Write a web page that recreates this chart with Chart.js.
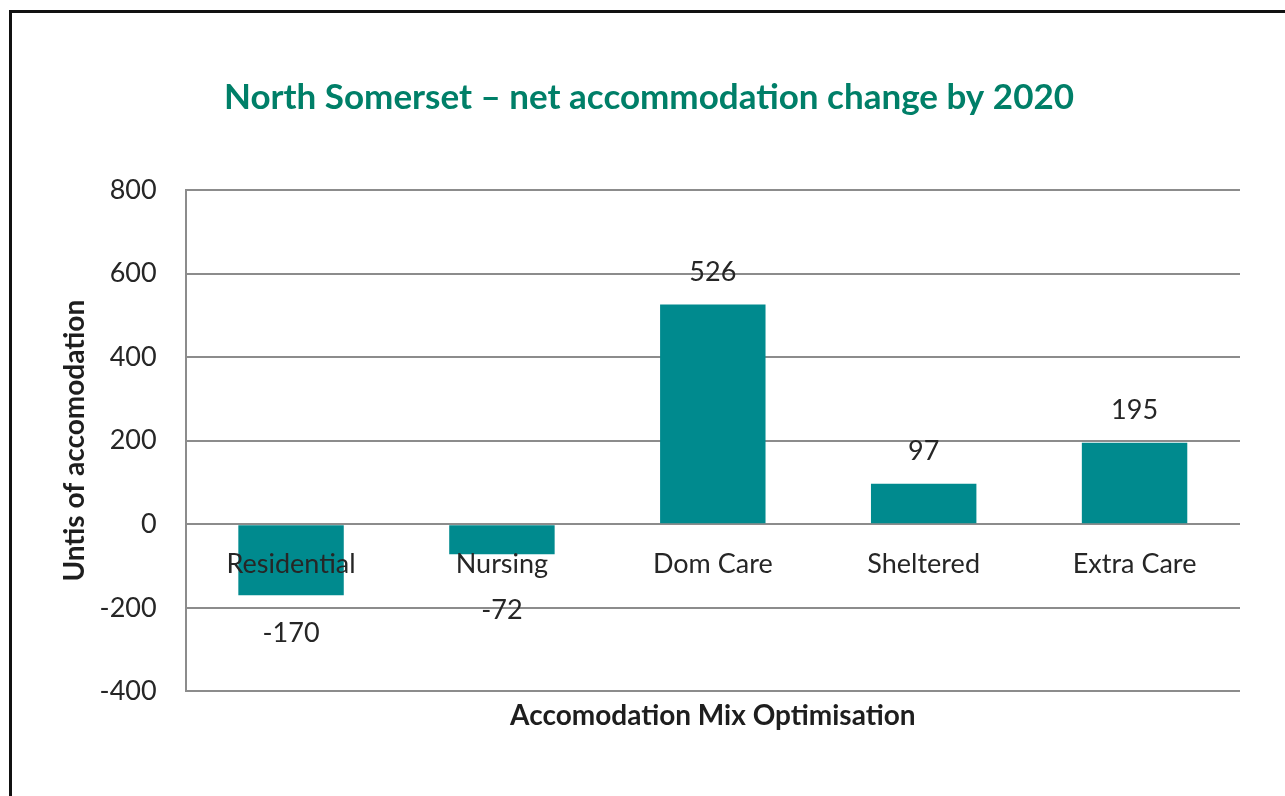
<!DOCTYPE html>
<html>
<head>
<meta charset="utf-8">
<script src="https://cdn.jsdelivr.net/npm/chart.js@4"></script>
<style>
    html, body { margin: 0; padding: 0; background: #fff; }
    #frame {
        position: absolute; left: 9px; top: 10px; width: 1290px; height: 800px;
        border-top: 3px solid #111; border-left: 3px solid #111;
    }
    #wrap { position: absolute; left: 0; top: 0; width: 1285px; height: 796px; }
</style>
</head>
<body>
<div id="frame"></div>
<div id="wrap"><canvas id="chart"></canvas></div>
<script>
const categories = ['Residential', 'Nursing', 'Dom Care', 'Sheltered', 'Extra Care'];
const netChange = [-170, -72, 526, 97, 195];
const yTicks = [-400, -200, 0, 200, 400, 600, 800];

document.addEventListener('DOMContentLoaded', () => {
    const ctx = document.getElementById('chart').getContext('2d');

    // value labels: above positive bars, below negative ones (clear of category text)
    const valueLabels = {
        id: 'valueLabels',
        afterDatasetsDraw(chart) {
            const c = chart.ctx;
            const zeroY = chart.scales.y.getPixelForValue(0);
            c.save();
            c.font = '27px Lato';
            c.fillStyle = '#262626';
            c.textAlign = 'center';
            c.textBaseline = 'middle';
            chart.getDatasetMeta(0).data.forEach((bar, i) => {
                const v = netChange[i];
                let y;
                if (v >= 0) {
                    y = bar.y - 32;
                } else {
                    y = Math.max(bar.y + 38, zeroY + 86);
                }
                c.fillText(String(v), bar.x, y);
            });
            c.restore();
        }
    };

    new Chart(ctx, {
        type: 'bar',
        data: {
            labels: categories,
            datasets: [{
                data: netChange,
                backgroundColor: '#008a8e',
                barPercentage: 1,
                categoryPercentage: 0.5
            }]
        },
        options: {
            responsive: true,
            maintainAspectRatio: false,
            animation: false,
            layout: { padding: { left: 58, right: 45, top: 0, bottom: 63 } },
            plugins: {
                legend: { display: false },
                tooltip: { enabled: false },
                title: {
                    display: true,
                    text: 'North Somerset \u2013 net accommodation change by 2020',
                    color: '#007f68',
                    font: { family: 'Lato', size: 35, weight: 'bold' },
                    padding: { top: 77, bottom: 71 }
                }
            },
            scales: {
                x: {
                    position: { y: 0 },
                    grid: { display: false, drawTicks: false },
                    border: { display: false },
                    ticks: {
                        z: 1,
                        color: '#262626',
                        font: { family: 'Lato', size: 27 },
                        padding: 24
                    }
                },
                // bottom axis that only carries the axis title
                xTitle: {
                    type: 'category',
                    labels: categories,
                    position: 'bottom',
                    grid: { display: false, drawTicks: false },
                    border: { display: false },
                    ticks: { display: false },
                    title: {
                        display: true,
                        text: 'Accomodation Mix Optimisation',
                        color: '#1e1e1e',
                        font: { family: 'Lato', size: 28, weight: 'bold' },
                        padding: { top: 8, bottom: 0 }
                    }
                },
                y: {
                    min: -400,
                    max: 800,
                    afterBuildTicks: axis => { axis.ticks = yTicks.map(v => ({ value: v })); },
                    grid: { color: '#8c8c8c', lineWidth: 2, drawTicks: false },
                    border: { display: true, color: '#8c8c8c', width: 2 },
                    ticks: {
                        color: '#262626',
                        font: { family: 'Lato', size: 27 },
                        padding: 29
                    },
                    title: {
                        display: true,
                        text: 'Untis of accomodation',
                        color: '#1e1e1e',
                        font: { family: 'Lato', size: 28, weight: 'bold' },
                        padding: { top: 0, bottom: -21 }
                    }
                }
            }
        },
        plugins: [valueLabels]
    });
});
</script>
</body>
</html>
